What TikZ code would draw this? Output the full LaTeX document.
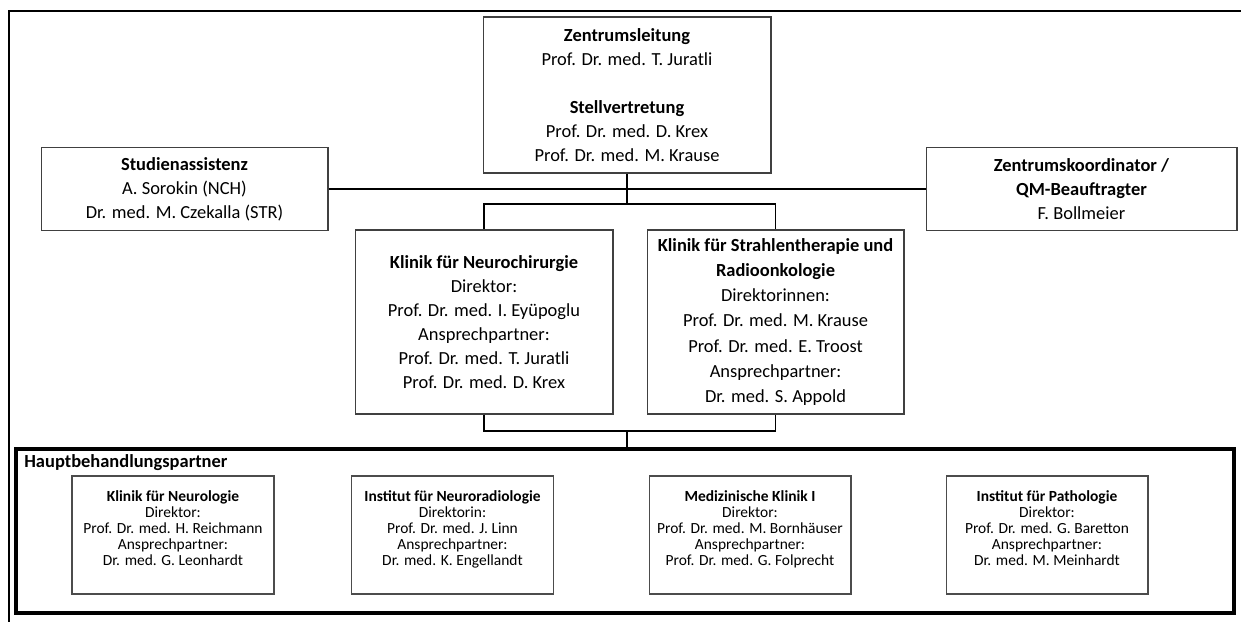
\documentclass[tikz,border=0pt]{standalone}
\usepackage{fontspec}
\setmainfont{Carlito}
\newcommand{\lowgap}{\rule[-8pt]{0pt}{8pt}}
\tikzset{
	orgbox/.style={draw=black!75, line width=0.6pt, align=center, inner sep=0pt, font=\fontsize{10.5}{13.6}\selectfont},
	partnerbox/.style={draw=black!70, line width=0.6pt, align=center, inner sep=0pt, minimum width=4.04cm, minimum height=2.36cm, font=\fontsize{8.8}{9.2}\selectfont},
	link/.style={line width=0.6pt}
}
\begin{document}
\begin{tikzpicture}[x=0.02cm, y=-0.02cm]
					\useasboundingbox (0,0) rectangle (1241,622);
					\draw[line width=1.7pt] (9,622) -- (9,11) -- (1241,11);
					\node[orgbox, minimum width=5.76cm, minimum height=3.12cm] (leitung) at (627,95) {\textbf{Zentrumsleitung}\\Prof. Dr. med. T. Juratli\\[13.6pt]\textbf{Stellvertretung}\\Prof. Dr. med. D. Krex\\Prof. Dr. med. M. Krause};
					\node[orgbox, minimum width=5.74cm, minimum height=1.66cm] (assist) at (184.5,189) {\textbf{Studienassistenz}\\A. Sorokin (NCH)\\Dr. med. M. Czekalla (STR)};
					\node[orgbox, minimum width=6.22cm, minimum height=1.66cm] (koord) at (1081.5,189) {\textbf{Zentrumskoordinator /}\\\textbf{QM-Beauftragter}\\F. Bollmeier};
					\node[orgbox, minimum width=5.16cm, minimum height=3.68cm] (neuro) at (484,322) {\textbf{Klinik für Neurochirurgie}\\Direktor:\\Prof. Dr. med. I. Eyüpoglu\\Ansprechpartner:\\Prof. Dr. med. T. Juratli\\Prof. Dr. med. D. Krex};
					\node[orgbox, minimum width=5.14cm, minimum height=3.68cm, font=\fontsize{10.5}{14.4}\selectfont] (strahl) at (775.5,322) {\textbf{Klinik für Strahlentherapie und}\\\textbf{Radioonkologie}\\Direktorinnen:\\Prof. Dr. med. M. Krause\\Prof. Dr. med. E. Troost\\Ansprechpartner:\\Dr. med. S. Appold};
					\coordinate (upper) at (627,204);
					\coordinate (lower) at (627,431);
					\draw[link] (assist.east) -- (koord.west);
					\draw[link] (leitung.south) -- (upper);
					\draw[link] (neuro.north) |- (upper) -| (strahl.north);
					\draw[link] (neuro.south) |- (lower) -| (strahl.south);
					\node[draw, line width=2pt, minimum width=24.36cm, minimum height=3.28cm, inner sep=0pt] (partner) at (625,531) {};
					\draw[link] (lower) -- (lower |- partner.north);
					\node[anchor=base west, font=\fontsize{10.5}{13.6}\selectfont\bfseries, inner sep=0pt] (partnerlabel) at (24,467) {Hauptbehandlungspartner};
					\node[partnerbox] (neurologie) at (173,535) {\textbf{Klinik für Neurologie}\\Direktor:\\Prof. Dr. med. H. Reichmann\\Ansprechpartner:\\Dr. med. G. Leonhardt\lowgap};
					\node[partnerbox] (radiologie) at (452.5,535) {\textbf{Institut für Neuroradiologie}\\Direktorin:\\Prof. Dr. med. J. Linn\\Ansprechpartner:\\Dr. med. K. Engellandt\lowgap};
					\node[partnerbox] (medizin) at (750,535) {\textbf{Medizinische Klinik I}\\Direktor:\\Prof. Dr. med. M. Bornhäuser\\Ansprechpartner:\\Prof. Dr. med. G. Folprecht\lowgap};
					\node[partnerbox] (pathologie) at (1047,535) {\textbf{Institut für Pathologie}\\Direktor:\\Prof. Dr. med. G. Baretton\\Ansprechpartner:\\Dr. med. M. Meinhardt\lowgap};
				\end{tikzpicture}
\end{document}
